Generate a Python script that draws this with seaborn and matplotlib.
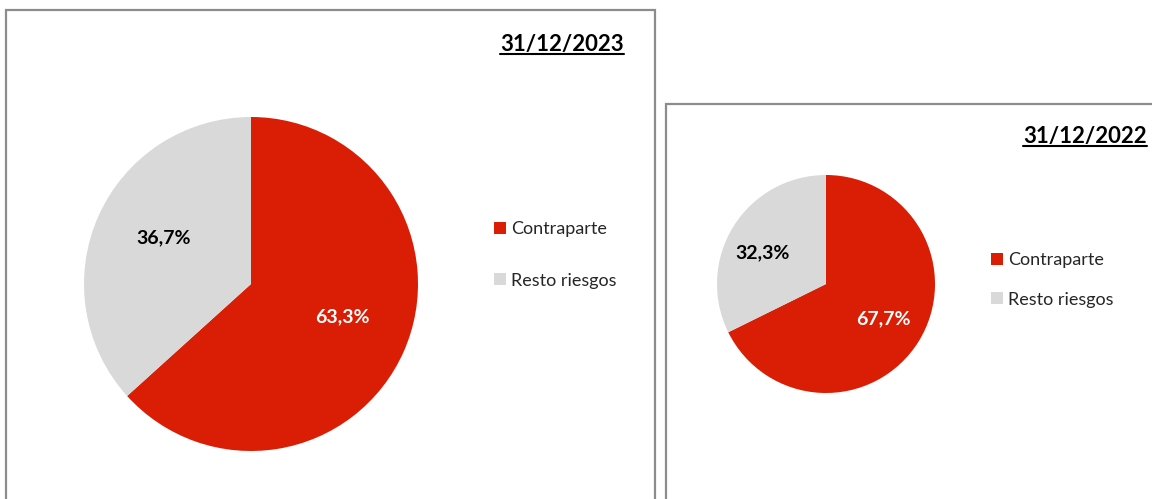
import numpy as np
import matplotlib
matplotlib.use("Agg")
from matplotlib import pyplot as plt
from matplotlib.patches import Rectangle
from matplotlib.lines import Line2D
import seaborn as sns

# Data
categories = ["Contraparte", "Resto riesgos"]
share_2023 = [63.3, 36.7]
share_2022 = [67.7, 32.3]
dates = ["31/12/2023", "31/12/2022"]
colors = ["#DA1E05", "#D9D9D9"]

sns.set_theme(style="white")
plt.rcParams["font.family"] = ["Lato", "DejaVu Sans"]

W, H = 1152, 499
fig = plt.figure(figsize=(W / 100, H / 100), dpi=100)


def fx(px):
    return px / W


def fy(py):
    return 1 - py / H


def pct_fmt(p):
    return f"{p:.1f}%".replace(".", ",")


def draw_panel(left, top, right, cx, cy, r, values, date, date_x, date_y,
               leg_x, leg_y, leg_spacing, lbl_dx, lbl_dy):
    # panel border (extends beyond the bottom of the picture)
    fig.patches.append(Rectangle((fx(left), fy(H + 20)), fx(right - left), fy(top) - fy(H + 20),
                                 transform=fig.transFigure, fill=False,
                                 edgecolor="#8C8C8C", linewidth=1.6, clip_on=False))

    ax = fig.add_axes([fx(cx - r), fy(cy + r), fx(2 * r), 2 * r / H])
    wedges, texts, autotexts = ax.pie(values, colors=colors, startangle=90,
                                      counterclock=False, autopct=pct_fmt,
                                      pctdistance=0.6, radius=1,
                                      wedgeprops=dict(linewidth=0, edgecolor="none"),
                                      textprops=dict(fontsize=14, fontweight="bold"))
    autotexts[0].set_color("white")
    autotexts[1].set_color("black")
    # small nudge of the value labels (pixels)
    for t, dx, dy in zip(autotexts, lbl_dx, lbl_dy):
        x, y = t.get_position()
        t.set_position((x + dx / r, y + dy / r))
    ax.set_xlim(-1, 1)
    ax.set_ylim(-1, 1)
    ax.set_aspect("equal")
    ax.axis("off")

    fig.legend(wedges, categories, loc="center left",
               bbox_to_anchor=(fx(leg_x), fy(leg_y)), frameon=False,
               fontsize=13, handlelength=0.66, handleheight=0.66,
               handletextpad=0.3, labelspacing=leg_spacing,
               borderpad=0, borderaxespad=0)

    t = fig.text(fx(date_x), fy(date_y), date, fontsize=16, fontweight="bold",
                 ha="left", va="center", color="black")
    fig.canvas.draw()
    bb = t.get_window_extent()
    fig.lines.append(Line2D([bb.x0 / W, bb.x1 / W], [(bb.y0 + 1) / H, (bb.y0 + 1) / H],
                            transform=fig.transFigure, color="black", linewidth=1.5))


draw_panel(6, 10, 655, 251, 284, 167, share_2023, dates[0], 500, 44, 494, 255, 1.95,
           [0, 4], [8, 6])
draw_panel(666, 104, 1170, 826, 284, 109, share_2022, dates[1], 1023, 136, 991, 280, 1.3,
           [2, -8], [0, -3])

fig.savefig("out.png", dpi=100)
